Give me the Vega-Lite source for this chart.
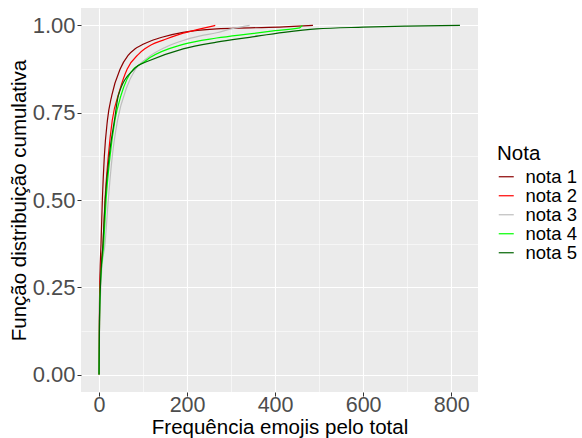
{
  "$schema": "https://vega.github.io/schema/vega-lite/v6.json",
  "width": 397,
  "height": 384,
  "autosize": {"type": "none"},
  "padding": {"left": 81, "top": 8, "right": 104, "bottom": 46},
  "background": "white",
  "config": {
    "view": {"fill": "#EBEBEB", "stroke": null},
    "font": "Liberation Sans"
  },
  "data": {
    "values": [
      {"nota": "nota 1", "x": 0, "y": 0},
      {"nota": "nota 1", "x": 1, "y": 0.2},
      {"nota": "nota 1", "x": 2, "y": 0.28},
      {"nota": "nota 1", "x": 4.5, "y": 0.375},
      {"nota": "nota 1", "x": 7.5, "y": 0.5},
      {"nota": "nota 1", "x": 12, "y": 0.625},
      {"nota": "nota 1", "x": 19, "y": 0.728},
      {"nota": "nota 1", "x": 29, "y": 0.8},
      {"nota": "nota 1", "x": 48, "y": 0.875},
      {"nota": "nota 1", "x": 66, "y": 0.914},
      {"nota": "nota 1", "x": 82, "y": 0.933},
      {"nota": "nota 1", "x": 100, "y": 0.946},
      {"nota": "nota 1", "x": 120, "y": 0.957},
      {"nota": "nota 1", "x": 145, "y": 0.967},
      {"nota": "nota 1", "x": 191, "y": 0.98},
      {"nota": "nota 1", "x": 267, "y": 0.99},
      {"nota": "nota 1", "x": 342, "y": 0.993},
      {"nota": "nota 1", "x": 420, "y": 0.996},
      {"nota": "nota 1", "x": 486, "y": 1.0},
      {"nota": "nota 2", "x": 0, "y": 0},
      {"nota": "nota 2", "x": 1, "y": 0.15},
      {"nota": "nota 2", "x": 3, "y": 0.28},
      {"nota": "nota 2", "x": 9, "y": 0.375},
      {"nota": "nota 2", "x": 13.6, "y": 0.5},
      {"nota": "nota 2", "x": 21, "y": 0.625},
      {"nota": "nota 2", "x": 30, "y": 0.728},
      {"nota": "nota 2", "x": 46, "y": 0.81},
      {"nota": "nota 2", "x": 64, "y": 0.875},
      {"nota": "nota 2", "x": 90, "y": 0.918},
      {"nota": "nota 2", "x": 104, "y": 0.933},
      {"nota": "nota 2", "x": 119, "y": 0.945},
      {"nota": "nota 2", "x": 146, "y": 0.958},
      {"nota": "nota 2", "x": 191, "y": 0.978},
      {"nota": "nota 2", "x": 230, "y": 0.99},
      {"nota": "nota 2", "x": 264, "y": 1.0},
      {"nota": "nota 3", "x": 0, "y": 0},
      {"nota": "nota 3", "x": 1, "y": 0.12},
      {"nota": "nota 3", "x": 3, "y": 0.22},
      {"nota": "nota 3", "x": 6, "y": 0.3},
      {"nota": "nota 3", "x": 13.6, "y": 0.375},
      {"nota": "nota 3", "x": 21, "y": 0.5},
      {"nota": "nota 3", "x": 30, "y": 0.625},
      {"nota": "nota 3", "x": 42, "y": 0.728},
      {"nota": "nota 3", "x": 63, "y": 0.823},
      {"nota": "nota 3", "x": 82, "y": 0.873},
      {"nota": "nota 3", "x": 112, "y": 0.909},
      {"nota": "nota 3", "x": 150, "y": 0.937},
      {"nota": "nota 3", "x": 191, "y": 0.957},
      {"nota": "nota 3", "x": 230, "y": 0.97},
      {"nota": "nota 3", "x": 267, "y": 0.979},
      {"nota": "nota 3", "x": 300, "y": 0.99},
      {"nota": "nota 3", "x": 342, "y": 1.0},
      {"nota": "nota 4", "x": 0, "y": 0},
      {"nota": "nota 4", "x": 1, "y": 0.15},
      {"nota": "nota 4", "x": 3, "y": 0.25},
      {"nota": "nota 4", "x": 10.5, "y": 0.375},
      {"nota": "nota 4", "x": 16, "y": 0.5},
      {"nota": "nota 4", "x": 25, "y": 0.625},
      {"nota": "nota 4", "x": 36, "y": 0.728},
      {"nota": "nota 4", "x": 50, "y": 0.8},
      {"nota": "nota 4", "x": 78, "y": 0.875},
      {"nota": "nota 4", "x": 89, "y": 0.885},
      {"nota": "nota 4", "x": 104, "y": 0.897},
      {"nota": "nota 4", "x": 116, "y": 0.908},
      {"nota": "nota 4", "x": 191, "y": 0.946},
      {"nota": "nota 4", "x": 267, "y": 0.964},
      {"nota": "nota 4", "x": 342, "y": 0.976},
      {"nota": "nota 4", "x": 400, "y": 0.985},
      {"nota": "nota 4", "x": 456, "y": 0.993},
      {"nota": "nota 4", "x": 462, "y": 1.0},
      {"nota": "nota 5", "x": 0, "y": 0},
      {"nota": "nota 5", "x": 1, "y": 0.15},
      {"nota": "nota 5", "x": 3, "y": 0.25},
      {"nota": "nota 5", "x": 9, "y": 0.375},
      {"nota": "nota 5", "x": 14, "y": 0.5},
      {"nota": "nota 5", "x": 23, "y": 0.625},
      {"nota": "nota 5", "x": 35, "y": 0.728},
      {"nota": "nota 5", "x": 44, "y": 0.8},
      {"nota": "nota 5", "x": 78, "y": 0.873},
      {"nota": "nota 5", "x": 89, "y": 0.885},
      {"nota": "nota 5", "x": 112, "y": 0.898},
      {"nota": "nota 5", "x": 191, "y": 0.933},
      {"nota": "nota 5", "x": 267, "y": 0.952},
      {"nota": "nota 5", "x": 342, "y": 0.966},
      {"nota": "nota 5", "x": 420, "y": 0.98},
      {"nota": "nota 5", "x": 494, "y": 0.99},
      {"nota": "nota 5", "x": 600, "y": 0.995},
      {"nota": "nota 5", "x": 700, "y": 0.998},
      {"nota": "nota 5", "x": 820, "y": 1.0}
    ]
  },
  "mark": {"type": "line", "interpolate": "monotone", "strokeWidth": 1.2},
  "encoding": {
    "x": {
      "field": "x",
      "type": "quantitative",
      "scale": {"domain": [-41, 861], "nice": false, "zero": false},
      "axis": {
        "title": "Frequência emojis pelo total",
        "values": [0, 100, 200, 300, 400, 500, 600, 700, 800],
        "labelExpr": "datum.value % 200 === 0 ? datum.label : ''",
        "domain": false,
        "grid": true,
        "gridColor": "white",
        "gridWidth": {"condition": {"test": "datum.value % 200 === 0", "value": 1.1}, "value": 0.55},
        "tickColor": {"condition": {"test": "datum.value % 200 === 0", "value": "#333333"}, "value": "transparent"},
        "tickSize": 4,
        "labelPadding": -2,
        "labelFontSize": 21.5,
        "labelColor": "#4D4D4D",
        "labelFont": "Liberation Sans",
        "titleFontSize": 20.5,
        "titleFontWeight": "normal",
        "titleColor": "black",
        "titleFont": "Liberation Sans",
        "titlePadding": 2
      }
    },
    "y": {
      "field": "y",
      "type": "quantitative",
      "scale": {"domain": [-0.05, 1.05], "nice": false, "zero": false},
      "axis": {
        "title": "Função distribuição cumulativa",
        "values": [0, 0.125, 0.25, 0.375, 0.5, 0.625, 0.75, 0.875, 1],
        "format": ".2f",
        "labelExpr": "abs(datum.value * 4 - round(datum.value * 4)) < 1e-6 ? datum.label : ''",
        "domain": false,
        "grid": true,
        "gridColor": "white",
        "gridWidth": {"condition": {"test": "abs(datum.value * 4 - round(datum.value * 4)) < 1e-6", "value": 1.1}, "value": 0.55},
        "tickColor": {"condition": {"test": "abs(datum.value * 4 - round(datum.value * 4)) < 1e-6", "value": "#333333"}, "value": "transparent"},
        "tickSize": 4,
        "labelPadding": 2,
        "labelFontSize": 22,
        "labelColor": "#4D4D4D",
        "labelFont": "Liberation Sans",
        "titleFontSize": 20.5,
        "titleFontWeight": "normal",
        "titleColor": "black",
        "titleFont": "Liberation Sans",
        "titlePadding": 3
      }
    },
    "color": {
      "field": "nota",
      "type": "nominal",
      "scale": {
        "domain": ["nota 1", "nota 2", "nota 3", "nota 4", "nota 5"],
        "range": ["#8B0000", "#FF0000", "#BEBEBE", "#00FF00", "#006400"]
      },
      "legend": {
        "title": "Nota",
        "orient": "none",
        "legendX": 416,
        "legendY": 136,
        "symbolType": "stroke",
        "symbolSize": 225,
        "symbolStrokeWidth": 1.2,
        "labelFontSize": 18.5,
        "labelFont": "Liberation Sans",
        "labelColor": "black",
        "labelOffset": 10,
        "rowPadding": 0,
        "titleFontSize": 20.5,
        "titleFont": "Liberation Sans",
        "titleFontWeight": "normal",
        "titleColor": "black",
        "titlePadding": 3
      }
    }
  }
}
